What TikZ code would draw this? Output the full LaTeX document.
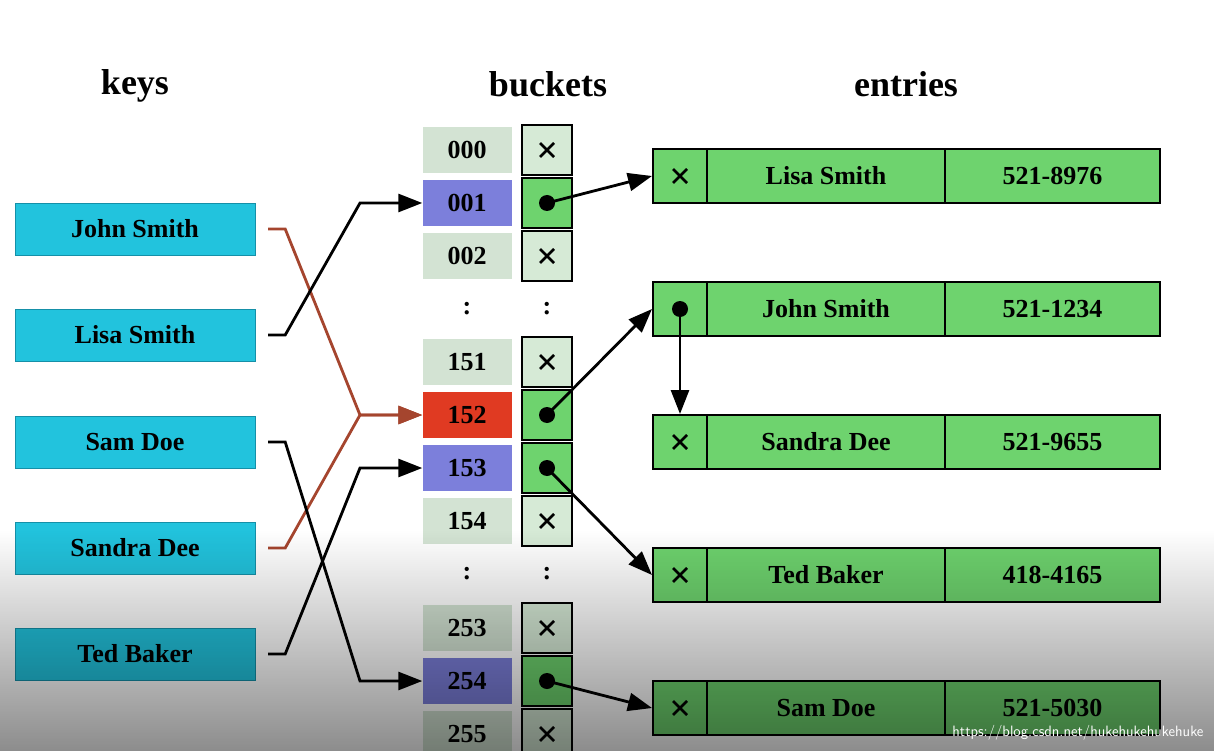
\documentclass[tikz,border=0pt]{standalone}
\usepackage{fontspec}
\setmainfont{Liberation Serif}
\usetikzlibrary{arrows.meta,fadings}
\definecolor{keyc}{HTML}{22C3DD}
\definecolor{keyb}{HTML}{1590A8}
\definecolor{idx}{HTML}{D3E3D3}
\definecolor{blu}{HTML}{7C7FDB}
\definecolor{redb}{HTML}{E03A22}
\definecolor{slotl}{HTML}{D6EAD6}
\definecolor{grn}{HTML}{6ED36E}
\definecolor{brn}{HTML}{A5452E}
\tikzset{
 key/.style={draw=keyb,fill=keyc,minimum width=240pt,minimum height=52pt,font=\fontsize{26}{26}\selectfont\bfseries,inner sep=0},
 ix/.style={fill=idx,minimum width=89pt,minimum height=46pt,font=\fontsize{26}{26}\selectfont\bfseries,inner sep=0},
 sl/.style={draw=black,line width=2pt,minimum width=50pt,minimum height=50pt,inner sep=0},
 ec/.style={draw=black,line width=2pt,fill=grn,minimum height=54pt,inner sep=0,font=\fontsize{26}{26}\selectfont\bfseries},
 ttl/.style={font=\fontsize{36}{36}\selectfont\bfseries},
 dot/.style={circle,fill=black,inner sep=0,minimum size=16pt},
 crs/.style={path picture={\draw[line width=2.6pt] ([shift={(-7pt,-7pt)}]path picture bounding box.center) -- ++(14pt,14pt) ([shift={(-7pt,7pt)}]path picture bounding box.center) -- ++(14pt,-14pt);}},
 ar/.style={line width=2.8pt,-{Triangle[length=24pt,width=18pt]}},
}
\begin{document}
\begin{tikzpicture}[x=1pt,y=-1pt]
\useasboundingbox (0,0) rectangle (1217,751);
\fill[white] (0,0) rectangle (1217,751);
\node[ttl] (tk) at (135,86) {keys};
\node[ttl] (tb) at (548,84) {buckets};
\node[ttl] (te) at (906,84) {entries};
% keys
\node[key] (kJ) at (135,229) {John Smith};
\node[key] (kL) at (135,335) {Lisa Smith};
\node[key] (kS) at (135,442) {Sam Doe};
\node[key] (kD) at (135,548) {Sandra Dee};
\node[key] (kT) at (135,654) {Ted Baker};
% index
\foreach \n/\y/\c in {000/150/idx,001/203/blu,002/256/idx,151/362/idx,152/415/redb,153/468/blu,154/521/idx,253/628/idx,254/681/blu,255/734/idx}
  \node[ix,fill=\c] (i\n) at (467,\y) {\n};
\node[font=\fontsize{26}{26}\selectfont\bfseries] (c1) at (467,309) {:};
\node[font=\fontsize{26}{26}\selectfont\bfseries] (c2) at (547,309) {:};
\node[font=\fontsize{26}{26}\selectfont\bfseries] (c3) at (467,574) {:};
\node[font=\fontsize{26}{26}\selectfont\bfseries] (c4) at (547,574) {:};
% slots
\foreach \n/\y in {000/150,002/256,151/362,154/521,253/628,255/734}
  \node[sl,fill=slotl,crs] (s\n) at (547,\y) {};
\foreach \n/\y in {001/203,152/415,153/468,254/681}
  \node[sl,fill=grn] (s\n) at (547,\y) {};
\foreach \n in {001,152,153,254} \node[dot] (d\n) at (s\n) {};
% entries
\foreach \r/\nm/\num/\y in {L/Lisa Smith/521-8976/176,J/John Smith/521-1234/309,D/Sandra Dee/521-9655/442,T/Ted Baker/418-4165/575,S/Sam Doe/521-5030/708}{
  \node[ec,minimum width=54pt] (e\r a) at (680,\y) {};
  \node[ec,minimum width=238pt] (e\r b) at (826,\y) {\nm};
  \node[ec,minimum width=215pt] (e\r c) at (1052.5,\y) {\num};
}
\foreach \r in {L,D,T,S} \node[crs,minimum size=30pt,inner sep=0] (x\r) at (e\r a) {};
\node[dot] (dJ) at (eJa) {};
% key arrows
\draw[ar,brn] (kJ.east)++(13,0) coordinate (a1) -- ++(17,0) -- (360,415) -- (i152.west);
\draw[ar,brn] (kD.east)++(13,0) coordinate (a2) -- ++(17,0) -- (360,415) -- (i152.west);
\draw[ar] (kL.east)++(13,0) coordinate (a3) -- ++(17,0) -- (360,203) -- (i001.west);
\draw[ar] (kS.east)++(13,0) coordinate (a4) -- ++(17,0) -- (360,681) -- (i254.west);
\draw[ar] (kT.east)++(13,0) coordinate (a5) -- ++(17,0) -- (360,468) -- (i153.west);
% bucket arrows
\draw[ar] (d001.center) -- (eLa.west);
\draw[ar] (d152.center) -- (eJa.west);
\draw[ar] (d153.center) -- (eTa.west);
\draw[ar] (d254.center) -- (eSa.west);
\draw[ar] (dJ.center) -- (eDa.north);
% video overlay darkening
\fill[black,opacity=0.45,path fading=north] (0,530) rectangle (1217,751);
\node[white,font=\fontsize{15}{15}\selectfont\sffamily,anchor=east] (wm) at (1207,733) {https://blog.csdn.net/hukehukehukehuke};
\end{tikzpicture}
\end{document}
